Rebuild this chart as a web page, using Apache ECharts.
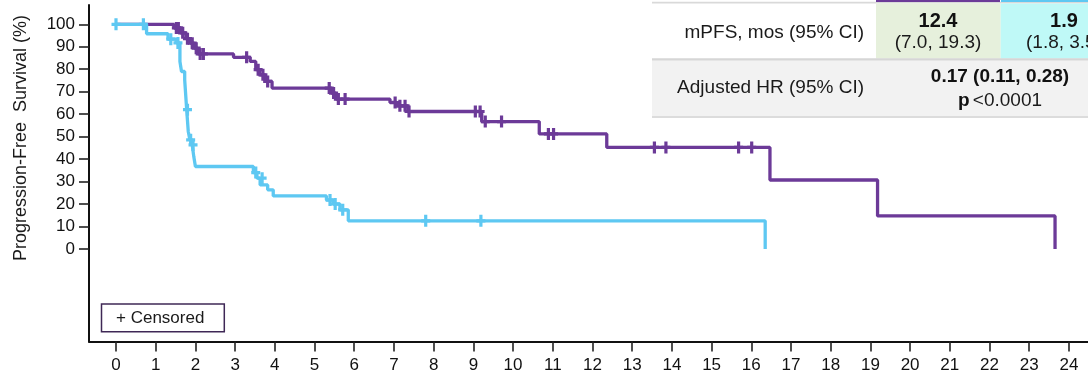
<!DOCTYPE html>
<html>
<head>
<meta charset="utf-8">
<script src="https://cdn.jsdelivr.net/npm/echarts@6/dist/echarts.min.js"></script>
<style>
  html, body { margin: 0; padding: 0; background: #fff; }
  #chart { width: 1088px; height: 378px; }
</style>
</head>
<body>
<div id="chart"></div>
<script>
// Kaplan-Meier progression-free survival, two arms.
// Each step point is [month, survival % after the event at that month].
const purpleSteps = [
  [0, 100], [1.46, 98.4], [1.62, 96.2], [1.76, 93.6], [1.87, 91.6], [1.97, 89.4],
  [2.06, 86.8], [2.96, 85.3], [3.38, 83.5], [3.52, 79.8], [3.62, 77.5], [3.76, 74.6],
  [3.93, 71.6], [5.43, 69.4], [5.54, 66.7], [6.90, 65.2], [7.07, 63.7], [7.35, 61.2],
  [9.21, 56.7], [10.66, 51.2], [12.36, 45.2], [16.47, 30.7], [19.18, 14.7], [23.65, 0]
];
const purpleCensored = [
  [1.52, 98.4], [1.57, 98.4], [1.68, 96.2], [1.80, 93.6], [1.92, 91.6], [2.02, 89.4],
  [2.12, 86.8], [2.20, 86.8], [3.29, 85.3], [3.58, 79.8], [3.70, 77.5], [3.82, 74.6],
  [5.37, 71.6], [5.48, 69.4], [5.60, 66.7], [5.77, 66.7], [7.03, 65.2], [7.15, 63.7],
  [7.28, 63.7], [7.38, 61.2], [9.05, 61.2], [9.17, 61.2], [9.30, 56.7], [9.71, 56.7],
  [10.89, 51.2], [11.02, 51.2], [13.56, 45.2], [13.85, 45.2], [15.68, 45.2], [16.01, 45.2]
];
const cyanSteps = [
  [0, 100], [0.77, 95.8], [1.31, 93.4], [1.52, 91.7], [1.61, 83.5], [1.65, 79.0],
  [1.73, 75.3], [1.78, 62.0], [1.82, 52.3], [1.86, 48.6], [1.92, 46.3], [1.96, 41.0],
  [2.00, 36.7], [3.46, 34.0], [3.55, 31.5], [3.63, 28.5], [3.82, 26.3], [3.96, 23.6],
  [5.30, 21.8], [5.47, 20.0], [5.64, 17.4], [5.85, 12.5], [16.35, 0]
];
const cyanCensored = [
  [0, 100], [0.69, 100], [1.38, 93.4], [1.56, 91.7], [1.80, 62.0], [1.88, 48.6],
  [1.94, 46.3], [3.52, 34.0], [3.68, 31.5], [5.39, 21.8], [5.52, 20.0], [5.71, 17.4],
  [7.80, 12.5], [9.19, 12.5]
];

// Axis ticks
const monthTicks = [0,1,2,3,4,5,6,7,8,9,10,11,12,13,14,15,16,17,18,19,20,21,22,23,24];
const survivalTicks = [0,10,20,30,40,50,60,70,80,90,100];

// Summary table
const tableLabels = ['mPFS, mos (95% CI)', 'Adjusted HR (95% CI)'];
const mpfsMedians = ['12.4', '1.9'];
const mpfsRanges = ['(7.0, 19.3)', '(1.8, 3.5)'];
const hazardRatio = '0.17 (0.11, 0.28)';
const pValue = '<0.0001';

const PURPLE = '#6c3a98';
const CYAN = '#5ec8f2';
const FONT = 'Arial, "Liberation Sans", Helvetica, sans-serif';

// Plus-shaped censor mark
const PLUS = 'path://M2.9,0H6.1V4.4H9V7.6H6.1V12H2.9V7.6H0V4.4H2.9Z';

const chart = echarts.init(document.getElementById('chart'), null, { renderer: 'canvas' });

const tableGraphics = [
  // header accents above the two arm columns
  { type: 'rect', shape: { x: 652, y: 1.8, width: 436, height: 1.6 }, style: { fill: '#d9d9d9' } },
  { type: 'rect', shape: { x: 876, y: 0, width: 124, height: 2 }, style: { fill: PURPLE } },
  { type: 'rect', shape: { x: 1001, y: 0, width: 124, height: 2 }, style: { fill: CYAN } },
  // first row cells
  { type: 'rect', shape: { x: 876, y: 3.4, width: 124.7, height: 55 }, style: { fill: '#e6f0dc' } },
  { type: 'rect', shape: { x: 1000.7, y: 3.4, width: 124, height: 55 }, style: { fill: '#bff9f7' } },
  { type: 'rect', shape: { x: 652, y: 58.3, width: 436, height: 2.4 }, style: { fill: '#d6d6d6' } },
  // second row
  { type: 'rect', shape: { x: 652, y: 60.7, width: 436, height: 55.3 }, style: { fill: '#f2f2f2' } },
  { type: 'rect', shape: { x: 652, y: 116, width: 436, height: 2 }, style: { fill: '#dcdcdc' } },
  { type: 'text', x: 864, y: 33, style: { text: tableLabels[0], fill: '#1a1a1a', font: '19px ' + FONT, align: 'right', verticalAlign: 'middle' } },
  { type: 'text', x: 864, y: 88, style: { text: tableLabels[1], fill: '#1a1a1a', font: '19px ' + FONT, align: 'right', verticalAlign: 'middle' } },
  { type: 'text', x: 938, y: 21, style: { text: mpfsMedians[0], fill: '#111', font: 'bold 20px ' + FONT, align: 'center', verticalAlign: 'middle' } },
  { type: 'text', x: 938, y: 43, style: { text: mpfsRanges[0], fill: '#1a1a1a', font: '19px ' + FONT, align: 'center', verticalAlign: 'middle' } },
  { type: 'text', x: 1064, y: 21, style: { text: mpfsMedians[1], fill: '#111', font: 'bold 20px ' + FONT, align: 'center', verticalAlign: 'middle' } },
  { type: 'text', x: 1064, y: 43, style: { text: mpfsRanges[1], fill: '#1a1a1a', font: '19px ' + FONT, align: 'center', verticalAlign: 'middle' } },
  { type: 'text', x: 1000, y: 77, style: { text: hazardRatio, fill: '#111', font: 'bold 19px ' + FONT, align: 'center', verticalAlign: 'middle' } },
  { type: 'text', x: 1000, y: 101, style: {
      text: '{b|p} {r|' + pValue + '}', align: 'center', verticalAlign: 'middle',
      rich: {
        b: { font: 'bold 19px ' + FONT, fill: '#111' },
        r: { font: '19px ' + FONT, fill: '#1a1a1a' }
      }
  } }
];

const option = {
  animation: false,
  backgroundColor: '#fff',
  grid: { left: 89, right: 0, top: 5, bottom: 36.5, containLabel: false, outerBoundsMode: 'none' },
  xAxis: {
    type: 'value',
    min: -0.68,
    max: 24.48,
    splitLine: { show: false },
    axisLine: { show: true, onZero: false, lineStyle: { color: '#111', width: 2 } },
    axisTick: { show: true, customValues: monthTicks, length: 10, lineStyle: { color: '#222', width: 1.6 } },
    axisLabel: { customValues: monthTicks, margin: 15, color: '#111', fontSize: 17, fontFamily: FONT }
  },
  yAxis: {
    type: 'value',
    min: -41.2,
    max: 108.6,
    splitLine: { show: false },
    axisLine: { show: true, onZero: false, lineStyle: { color: '#111', width: 2 } },
    axisTick: { show: true, customValues: survivalTicks, length: 10, lineStyle: { color: '#222', width: 1.6 } },
    axisLabel: { customValues: survivalTicks, margin: 14, color: '#111', fontSize: 17, fontFamily: FONT }
  },
  graphic: [
    { type: 'text', x: 21, y: 138, rotation: Math.PI / 2,
      style: { text: 'Progression-Free  Survival (%)', fill: '#1a1a1a', font: '18px ' + FONT, align: 'center', verticalAlign: 'middle' } },
    { type: 'rect', shape: { x: 101.5, y: 304, width: 122.8, height: 27.7 },
      style: { fill: '#fff', stroke: '#3f2856', lineWidth: 1.5 } },
    { type: 'text', x: 116, y: 318, style: { text: '+ Censored', fill: '#1a1a1a', font: '17px ' + FONT, align: 'left', verticalAlign: 'middle' } }
  ].concat(tableGraphics),
  series: [
    {
      type: 'line', step: 'end', data: purpleSteps, showSymbol: false, silent: true,
      lineStyle: { color: PURPLE, width: 3.3 }, z: 2
    },
    {
      type: 'scatter', data: purpleCensored, symbol: PLUS, symbolSize: [9, 12], silent: true,
      itemStyle: { color: PURPLE, opacity: 1 }, z: 3
    },
    {
      type: 'line', step: 'end', data: cyanSteps, showSymbol: false, silent: true,
      lineStyle: { color: CYAN, width: 3.3 }, z: 4
    },
    {
      type: 'scatter', data: cyanCensored, symbol: PLUS, symbolSize: [9, 12], silent: true,
      itemStyle: { color: CYAN, opacity: 1 }, z: 5
    }
  ]
};

chart.setOption(option);
</script>
</body>
</html>
